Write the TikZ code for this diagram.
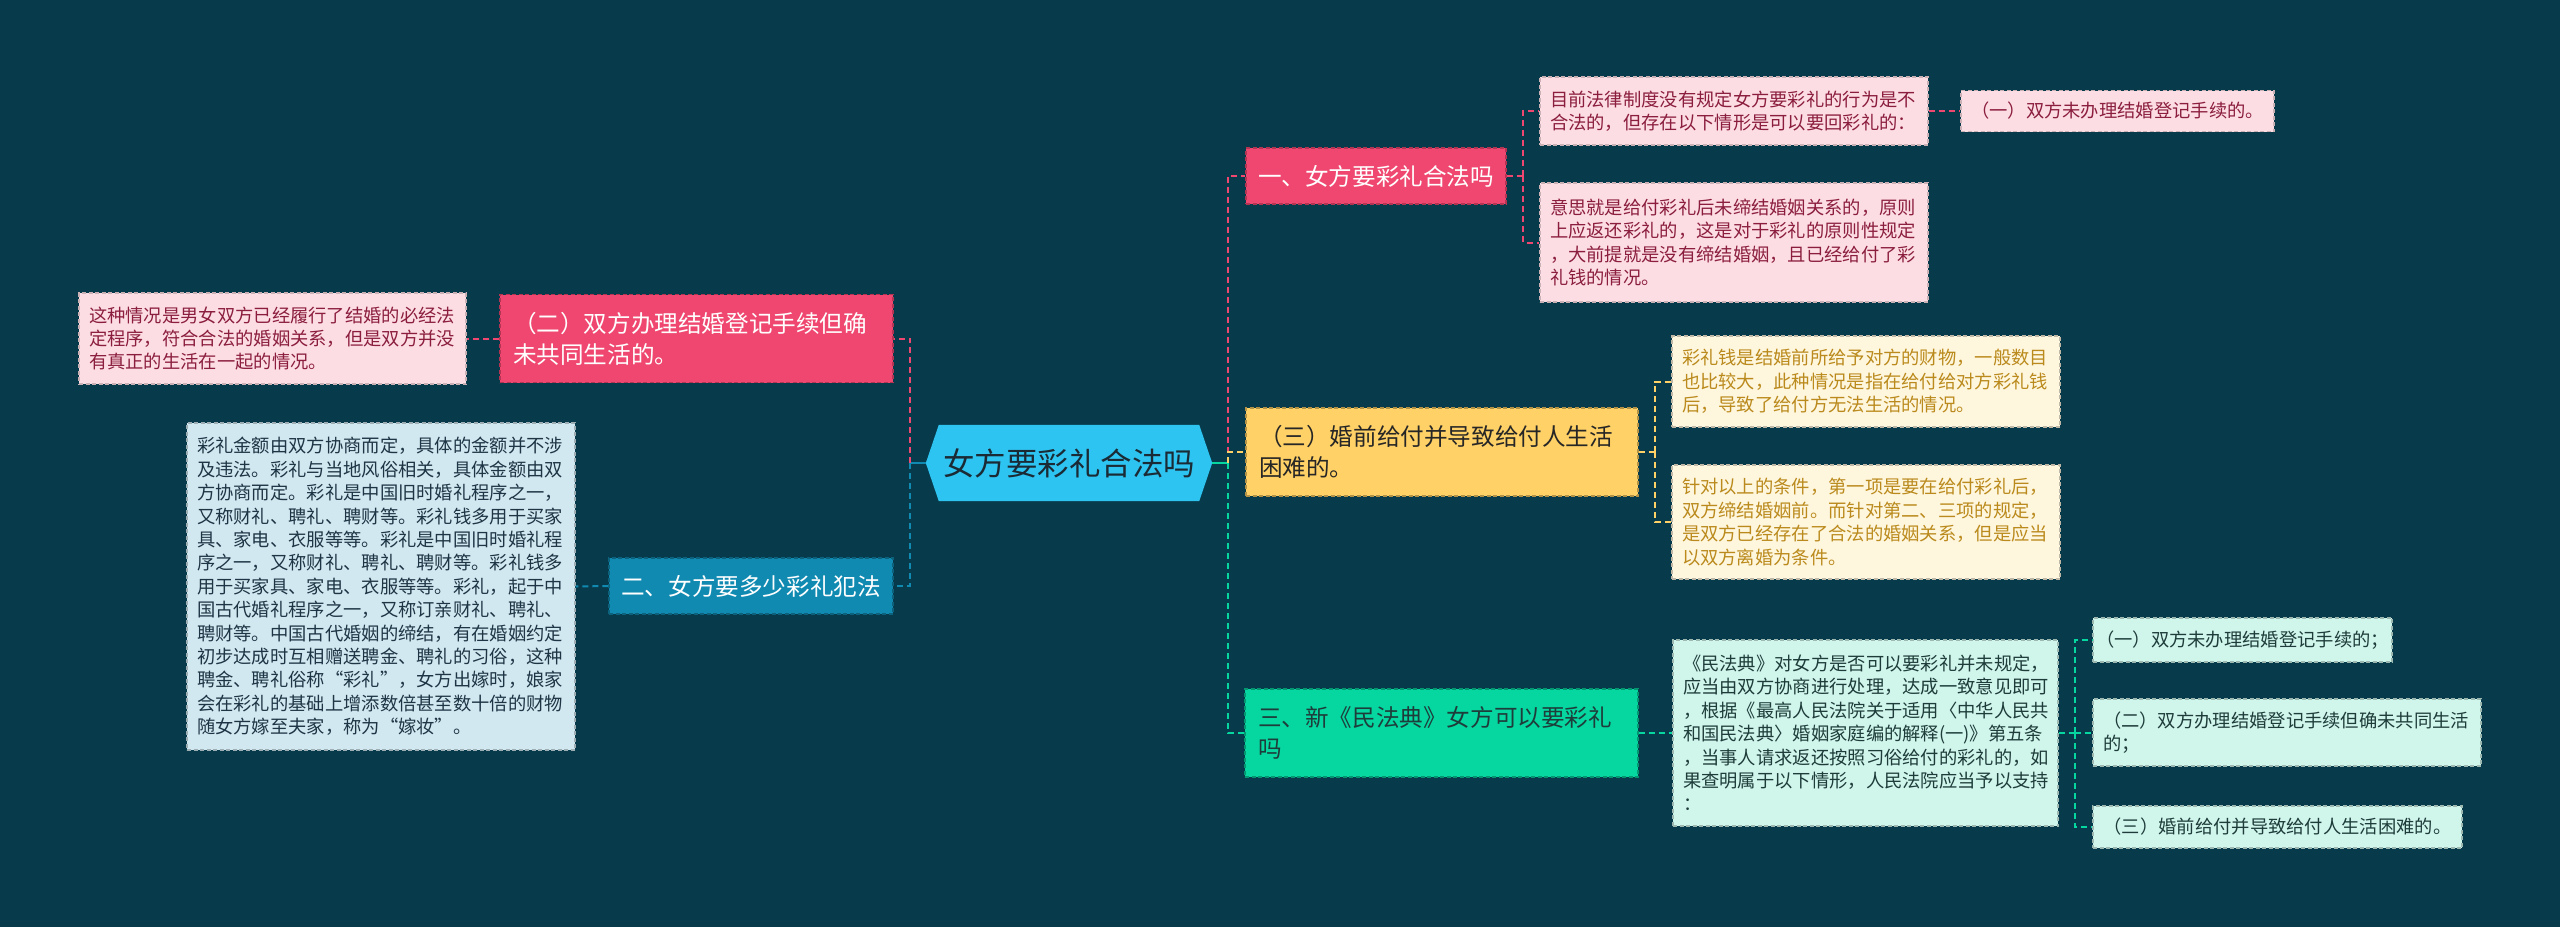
\documentclass[tikz,border=0pt]{standalone}
\usepackage{fontspec}
\setmainfont{Noto Sans CJK SC}
\usetikzlibrary{backgrounds}
\definecolor{bgc}{HTML}{073B4C}
\definecolor{rootc}{HTML}{2EC4F1}
\definecolor{roott}{HTML}{1B2B36}
\definecolor{pinkD}{HTML}{EF476F}
\definecolor{pinkL}{HTML}{FDDDE4}
\definecolor{pinkT}{HTML}{8B1E3F}
\definecolor{yelD}{HTML}{FFD166}
\definecolor{yelL}{HTML}{FFF6DE}
\definecolor{yelT}{HTML}{BA8A1C}
\definecolor{grnD}{HTML}{06D6A0}
\definecolor{grnL}{HTML}{D0F5EB}
\definecolor{grnT}{HTML}{1E3D3A}
\definecolor{bluD}{HTML}{118AB2}
\definecolor{bluL}{HTML}{D2E8F0}
\definecolor{bluT}{HTML}{1E3545}
\newcommand\fwq[1]{{\addfontfeature{CharacterWidth=Full}#1}}
\tikzset{
  conn/.style={line width=2pt, dash pattern=on 6pt off 4pt},
  stub/.style={line width=2.5pt},
  edge/.style={line width=1.2pt, dash pattern=on 4pt off 2.5pt},
  sbox/.style={edge, rectangle, inner xsep=10pt, inner ysep=0pt, align=left, font=\fontsize{18.3}{23.4}\selectfont},
  tbox/.style={edge, rectangle, inner xsep=0pt, inner ysep=0pt, align=center, font=\fontsize{18.3}{23.4}\selectfont},
  mbox/.style={edge, rectangle, inner xsep=13pt, inner ysep=0pt, align=left, font=\fontsize{23.6}{31}\selectfont},
  pinkLs/.style={fill=pinkL, draw=pinkL!80!black, text=pinkT},
  yelLs/.style={fill=yelL, draw=yelL!75!black, text=yelT},
  grnLs/.style={fill=grnL, draw=grnL!75!black, text=grnT},
  bluLs/.style={fill=bluL, draw=bluL!75!black, text=bluT},
  pinkDs/.style={fill=pinkD, draw=pinkD!75!black, text=white},
  yelDs/.style={fill=yelD, draw=yelD!70!black, text=black!85},
  grnDs/.style={fill=grnD, draw=grnD!70!black, text=grnT},
  bluDs/.style={fill=bluD, draw=bluD!70!black, text=white},
  rootn/.style={rectangle, inner sep=0pt, minimum width=286pt, minimum height=76pt, text=roott, font=\fontsize{31.5}{36}\selectfont},
}
\begin{document}
\begin{tikzpicture}[x=1pt,y=-1pt]
\useasboundingbox (0,0) rectangle (2560,927);
% root
\node[rootn] (root) at (1069,463) {女方要彩礼合法吗};
\begin{scope}[on background layer]
\fill[bgc] (0,0) rectangle (2560,927);
\fill[rootc] (root.west) -- ([xshift=13pt]root.north west) -- ([xshift=-13pt]root.north east) -- (root.east) -- ([xshift=-13pt]root.south east) -- ([xshift=13pt]root.south west) -- cycle;
\end{scope}
\coordinate (rR) at (1228,463);
\coordinate (rL) at (910,463);

% right side level 1
\node[mbox, pinkDs, minimum width=260pt, minimum height=56pt, inner xsep=0pt, align=center] (n1) at (1376,176) {一、女方要彩礼合法吗};
\node[mbox, yelDs, text width=366pt, minimum height=88pt] (n3) at (1442,452) {（三）婚前给付并导致给付人生活\\困难的。};
\node[mbox, grnDs, text width=367pt, minimum height=88pt] (nC) at (1441.5,733) {三、新《民法典》女方可以要彩礼\\吗};

% left side level 1
\node[mbox, pinkDs, text width=367pt, minimum height=88pt] (n2) at (696.5,338.5) {（二）双方办理结婚登记手续但确\\未共同生活的。};
\node[mbox, bluDs, minimum width=284pt, minimum height=56pt, inner xsep=0pt, align=center] (nB) at (751,586) {二、女方要多少彩礼犯法};

% branch one children
\node[sbox, pinkLs, text width=368pt, minimum height=68pt] (A) at (1734,111) {目前法律制度没有规定女方要彩礼的行为是不\\合法的，但存在以下情形是可以要回彩礼的：};
\node[sbox, pinkLs, text width=368pt, minimum height=119pt] (B) at (1734,242.5) {意思就是给付彩礼后未缔结婚姻关系的，原则\\上应返还彩礼的，这是对于彩礼的原则性规定\\，大前提就是没有缔结婚姻，且已经给付了彩\\礼钱的情况。};
\node[tbox, pinkLs, minimum width=313pt, minimum height=41pt] (A1) at (2117.5,111) {（一）双方未办理结婚登记手续的。};

% branch (san) children
\node[sbox, yelLs, text width=368pt, minimum height=91pt] (C) at (1866,381.5) {彩礼钱是结婚前所给予对方的财物，一般数目\\也比较大，此种情况是指在给付给对方彩礼钱\\后，导致了给付方无法生活的情况。};
\node[sbox, yelLs, text width=368pt, minimum height=114pt] (D) at (1866,522) {针对以上的条件，第一项是要在给付彩礼后，\\双方缔结婚姻前。而针对第二、三项的规定，\\是双方已经存在了合法的婚姻关系，但是应当\\以双方离婚为条件。};

% branch three children
\node[sbox, grnLs, text width=365pt, minimum height=186pt] (E) at (1865.5,733) {《民法典》对女方是否可以要彩礼并未规定，\\应当由双方协商进行处理，达成一致意见即可\\，根据《最高人民法院关于适用〈中华人民共\\和国民法典〉婚姻家庭编的解释(一)》第五条\\，当事人请求返还按照习俗给付的彩礼的，如\\果查明属于以下情形，人民法院应当予以支持\\：};
\node[tbox, grnLs, minimum width=299pt, minimum height=44pt] (F1) at (2242.5,640) {（一）双方未办理结婚登记手续的；};
\node[sbox, grnLs, text width=368pt, minimum height=67pt] (F2) at (2287,732.5) {（二）双方办理结婚登记手续但确未共同生活\\的；};
\node[tbox, grnLs, minimum width=369pt, minimum height=42pt] (F3) at (2277.5,827) {（三）婚前给付并导致给付人生活困难的。};

% left children
\node[sbox, pinkLs, text width=367pt, minimum height=91pt] (G) at (272.5,338.5) {这种情况是男女双方已经履行了结婚的必经法\\定程序，符合合法的婚姻关系，但是双方并没\\有真正的生活在一起的情况。};
\node[sbox, bluLs, text width=368pt, minimum height=327pt] (H) at (381,586.5) {彩礼金额由双方协商而定，具体的金额并不涉\\及违法。彩礼与当地风俗相关，具体金额由双\\方协商而定。彩礼是中国旧时婚礼程序之一，\\又称财礼、聘礼、聘财等。彩礼钱多用于买家\\具、家电、衣服等等。彩礼是中国旧时婚礼程\\序之一，又称财礼、聘礼、聘财等。彩礼钱多\\用于买家具、家电、衣服等等。彩礼，起于中\\国古代婚礼程序之一，又称订亲财礼、聘礼、\\聘财等。中国古代婚姻的缔结，有在婚姻约定\\初步达成时互相赠送聘金、聘礼的习俗，这种\\聘金、聘礼俗称\fwq{“}彩礼\fwq{”}，女方出嫁时，娘家\\会在彩礼的基础上增添数倍甚至数十倍的财物\\随女方嫁至夫家，称为\fwq{“}嫁妆\fwq{”}。};

% coordinates for elbows
\coordinate (p1) at (1523,176);
\coordinate (y1) at (1655,452);
\coordinate (g1) at (2075,733);

% root connectors
\draw[stub, grnD] (root.east) -- (rR);
\draw[stub, bluD] (root.west) -- (rL);
\draw[conn, pinkD] (rR) |- (n1.west);
\draw[conn, yelD] (rR) |- (n3.west);
\draw[conn, grnD] (rR) |- (nC.west);
\draw[conn, pinkD] (rL) |- (n2.east);
\draw[conn, bluD] (rL) |- (nB.east);

% branch connectors
\draw[conn, pinkD] (n1.east) -- (p1);
\draw[conn, pinkD] (p1) |- (A.west);
\draw[conn, pinkD] (p1) |- (B.west);
\draw[conn, pinkD] (A.east) -- (A1.west);
\draw[conn, yelD] (n3.east) -- (y1);
\draw[conn, yelD] (y1) |- (C.west);
\draw[conn, yelD] (y1) |- (D.west);
\draw[conn, grnD] (nC.east) -- (E.west);
\draw[conn, grnD] (E.east) -- (g1);
\draw[conn, grnD] (g1) |- (F1.west);
\draw[conn, grnD] (g1) |- (F2.west);
\draw[conn, grnD] (g1) |- (F3.west);
\draw[conn, pinkD] (n2.west) -- (G.east);
\draw[conn, bluD] (nB.west) -- (H.east);
\end{tikzpicture}
\end{document}
